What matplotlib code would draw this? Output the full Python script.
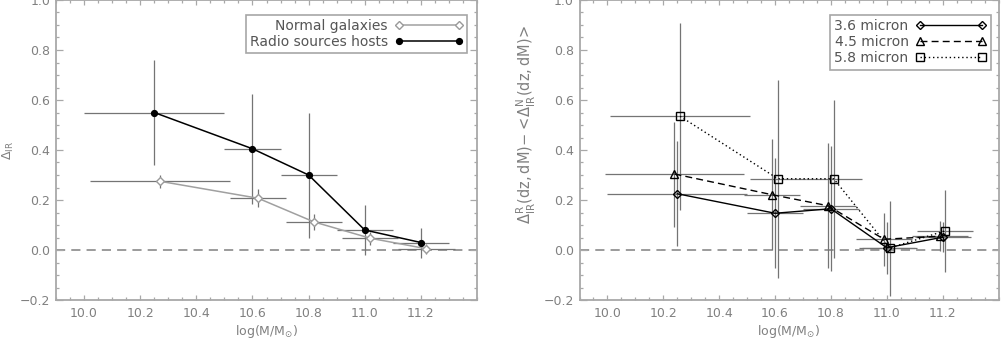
import matplotlib
matplotlib.use("Agg")
import matplotlib.pyplot as plt
from matplotlib.ticker import MultipleLocator

# ---------------- data ----------------
# Left panel
mass_radio = [10.25, 10.60, 10.80, 11.00, 11.20]
dir_radio = [0.55, 0.405, 0.30, 0.08, 0.03]
dir_radio_err = [0.21, 0.22, 0.25, 0.10, 0.06]
mass_radio_err = [0.25, 0.10, 0.10, 0.10, 0.10]

mass_normal = [10.27, 10.62, 10.82, 11.02, 11.22]
dir_normal = [0.275, 0.207, 0.112, 0.047, 0.005]
dir_normal_err = [0.025, 0.036, 0.033, 0.025, 0.02]
mass_normal_err = [0.25, 0.10, 0.10, 0.10, 0.10]

# Right panel
mass_36 = [10.25, 10.60, 10.80, 11.00, 11.20]
diff_36 = [0.225, 0.147, 0.165, 0.009, 0.051]
diff_36_err = [0.21, 0.22, 0.25, 0.103, 0.06]

mass_45 = [10.24, 10.59, 10.79, 10.99, 11.19]
diff_45 = [0.304, 0.221, 0.177, 0.043, 0.055]
diff_45_err = [0.21, 0.222, 0.25, 0.105, 0.06]

mass_58 = [10.26, 10.61, 10.81, 11.01, 11.21]
diff_58 = [0.535, 0.285, 0.285, 0.008, 0.077]
diff_58_err = [0.375, 0.395, 0.315, 0.19, 0.165]

mass_bin_err = [0.25, 0.10, 0.10, 0.10, 0.10]

x_ticks = [10.0, 10.2, 10.4, 10.6, 10.8, 11.0, 11.2]
y_ticks = [-0.2, 0.0, 0.2, 0.4, 0.6, 0.8, 1.0]

left_labels = ["Normal galaxies", "Radio sources hosts"]
right_labels = ["3.6 micron", "4.5 micron", "5.8 micron"]

# ---------------- style ----------------
plt.rcParams['font.family'] = ['DejaVu Sans']
plt.rcParams['mathtext.fontset'] = 'dejavusans'
GRAY_TXT = '#808080'
SPINE = '#a8a8a8'
ECOL = '#747474'

fig = plt.figure(figsize=(10.01, 3.39), dpi=100)
W, H = 1001.0, 339.0
ax1 = fig.add_axes([56 / W, (H - 300) / H, 421 / W, 300 / H])
ax2 = fig.add_axes([579.5 / W, (H - 300) / H, 419 / W, 300 / H])


def style_axes(ax):
    ax.set_xlim(9.9, 11.4)
    ax.set_ylim(-0.2, 1.0)
    ax.set_xticks(x_ticks)
    ax.set_yticks(y_ticks)
    ax.set_xticklabels([f"{v:.1f}" for v in x_ticks])
    ax.set_yticklabels([f"{v:.1f}".replace('-', '\u2212') for v in y_ticks])
    ax.xaxis.set_minor_locator(MultipleLocator(0.05))
    ax.yaxis.set_minor_locator(MultipleLocator(0.05))
    ax.tick_params(which='both', direction='in', top=True, right=True,
                   colors=SPINE, labelcolor=GRAY_TXT, labelsize=9, width=0.9)
    ax.tick_params(axis='x', which='major', length=3.6, pad=5)
    ax.tick_params(axis='x', which='minor', length=2.0)
    ax.tick_params(axis='y', which='major', length=4.8, pad=4)
    ax.tick_params(axis='y', which='minor', length=2.4)
    for s in ax.spines.values():
        s.set_color(SPINE)
        s.set_linewidth(1.3)
    ax.axhline(0.0, color='#808080', lw=1.1, ls=(0, (6, 4)), zorder=1)
    ax.set_xlabel(r'log(M/M$_{\odot}$)', color=GRAY_TXT, fontsize=9, labelpad=2)


style_axes(ax1)
style_axes(ax2)

# ---------------- left panel ----------------
ax1.errorbar(mass_normal, dir_normal, xerr=mass_normal_err, yerr=dir_normal_err,
             fmt='none', ecolor=ECOL, elinewidth=0.9, capsize=0, zorder=2)
ax1.errorbar(mass_radio, dir_radio, xerr=mass_radio_err, yerr=dir_radio_err,
             fmt='none', ecolor=ECOL, elinewidth=0.9, capsize=0, zorder=2)
ln_n, = ax1.plot(mass_normal, dir_normal, color='#a0a0a0', lw=1.1, marker='D',
                 ms=3.8, mfc='white', mec='#9a9a9a', mew=1.0, zorder=3,
                 label=left_labels[0])
ln_r, = ax1.plot(mass_radio, dir_radio, color='black', lw=1.1, marker='o',
                 ms=4.2, mfc='black', mec='black', zorder=4, label=left_labels[1])
ax1.set_ylabel(r'$\Delta_{\rm IR}$', color=GRAY_TXT, fontsize=9)
ax1.yaxis.set_label_coords(-(56 - 16) / 421, 0.5)

leg1 = ax1.legend(handles=[ln_n, ln_r], loc='upper right',
                  bbox_to_anchor=(1 - 10 / 421, 1 - 15 / 300),
                  markerfirst=False, numpoints=2, handlelength=4.9,
                  fontsize=10, frameon=True, fancybox=False, borderpad=0.3,
                  labelspacing=0.15, handletextpad=0.5, borderaxespad=0)
leg1.get_frame().set_edgecolor('#909090')
leg1.get_frame().set_linewidth(1.2)
for t in leg1.get_texts():
    t.set_color('#555555')

# ---------------- right panel ----------------
for xs, ys, ye in [(mass_36, diff_36, diff_36_err),
                   (mass_45, diff_45, diff_45_err),
                   (mass_58, diff_58, diff_58_err)]:
    ax2.errorbar(xs, ys, xerr=mass_bin_err, yerr=ye, fmt='none', ecolor=ECOL,
                 elinewidth=0.9, capsize=0, zorder=2)

l36, = ax2.plot(mass_36, diff_36, color='black', lw=1.0, ls='-', marker='D',
                ms=4.2, mfc='none', mec='black', mew=1.0, zorder=4,
                label=right_labels[0])
l45, = ax2.plot(mass_45, diff_45, color='black', lw=1.0, ls=(0, (5, 3)),
                marker='^', ms=6, mfc='none', mec='black', mew=1.0, zorder=4,
                label=right_labels[1])
l58, = ax2.plot(mass_58, diff_58, color='black', lw=1.0, ls=(0, (1, 2)),
                marker='s', ms=6, mfc='none', mec='black', mew=1.0, zorder=4,
                label=right_labels[2])
ax2.set_ylabel(r'$\Delta^{\rm R}_{\rm IR}({\rm dz,dM})\!-\!<\!\Delta^{\rm N}_{\rm IR}({\rm dz,dM})\!>$',
               color=GRAY_TXT, fontsize=10.5)
ax2.yaxis.set_label_coords(-(579.5 - 538) / 419, 1 - 125 / 300)

leg2 = ax2.legend(handles=[l36, l45, l58], loc='upper right',
                  bbox_to_anchor=(1 - 8 / 419, 1 - 15 / 300),
                  markerfirst=False, numpoints=2, handlelength=5.1,
                  fontsize=10, frameon=True, fancybox=False, borderpad=0.3,
                  labelspacing=0.15, handletextpad=0.5, borderaxespad=0)
leg2.get_frame().set_edgecolor('#909090')
leg2.get_frame().set_linewidth(1.2)
for t in leg2.get_texts():
    t.set_color('#555555')

fig.savefig('out.png', dpi=100)
